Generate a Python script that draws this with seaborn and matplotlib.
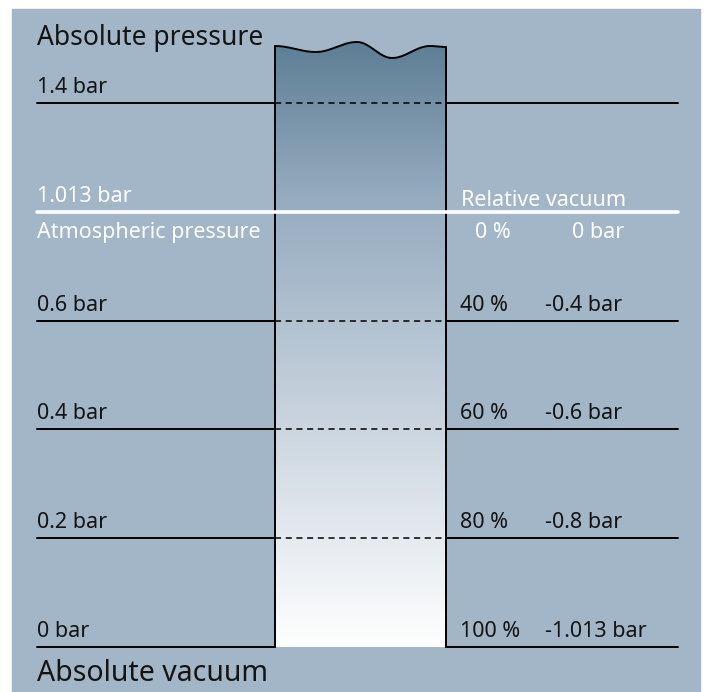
#!/usr/bin/env python

import numpy as np
import pandas as pd
import matplotlib.pyplot as plt
import matplotlib.colors as mcolors
from matplotlib.patches import Rectangle, PathPatch
from matplotlib.path import Path
import seaborn as sns

# pressure levels, drawn evenly spaced (schematic, not to scale)
levels = [0, 1, 2, 3, 4, 5]
abs_labels = ["0 bar", "0.2 bar", "0.4 bar", "0.6 bar", "1.013 bar", "1.4 bar"]
pct_labels = ["100 %", "80 %", "60 %", "40 %", "0 %", None]
rel_labels = ["-1.013 bar", "-0.8 bar", "-0.6 bar", "-0.4 bar", "0 bar", None]
atm_level = 4

sns.set_theme(style="white")
plt.rcParams['font.family'] = ['Noto Sans', 'DejaVu Sans']

PANEL = "#a3b6c7"
TOP = "#5d7e95"
INK = "#141414"

W, H = 705, 692
fig = plt.figure(figsize=(W / 100, H / 100), dpi=100)
ax = fig.add_axes([0, 0, 1, 1])

px_per_level = 108.8
y0_px = 647


def lv(py):
    # pixel row -> level units
    return (y0_px - py) / px_per_level


ax.set_xlim(0, W)
ax.set_ylim(lv(H), lv(0))
ax.axis("off")
fig.patch.set_facecolor("white")

# panel
ax.add_patch(Rectangle((12, lv(H)), 688, lv(9) - lv(H), color=PANEL, zorder=0))

# column with wavy top
xl, xr = 275, 446
wave_x = [275, 316, 357, 392, 430, 446]
wave_y = [46, 52, 42, 58, 46, 47]
xs, ys = [], []
for i in range(len(wave_x) - 1):
    t = np.linspace(0, 1, 30)
    s = (1 - np.cos(np.pi * t)) / 2
    xs.extend(wave_x[i] + (wave_x[i + 1] - wave_x[i]) * t)
    ys.extend(wave_y[i] + (wave_y[i + 1] - wave_y[i]) * s)
top_y = [lv(v) for v in ys]
verts = [(xl, levels[0])] + list(zip(xs, top_y)) + [(xr, levels[0]), (xl, levels[0])]
clip = Path(verts, closed=True)

cmap = mcolors.LinearSegmentedColormap.from_list(
    "col", [(0, "white"), (0.62, "#a6b8c9"), (0.75, "#95abbe"), (1, TOP)])
grad = np.linspace(0, 1, 256).reshape(-1, 1)
ytop = max(top_y)
im = ax.imshow(grad, cmap=cmap, aspect="auto", origin="lower",
               extent=(xl, xr, levels[0], ytop), zorder=1)
patch = PathPatch(clip, facecolor="none", edgecolor="none")
ax.add_patch(patch)
im.set_clip_path(patch)
ax.plot(xs, top_y, color="black", lw=1.4, zorder=4)
ax.plot([xl, xl], [levels[0], top_y[0]], color="black", lw=1.4, zorder=4)
ax.plot([xr, xr], [levels[0], top_y[-1]], color="black", lw=1.4, zorder=4)

# level lines
rows = []
for lvl in levels:
    if lvl == atm_level:
        continue
    rows.append(dict(x=37, level=lvl, seg=f"L{lvl}"))
    rows.append(dict(x=xl, level=lvl, seg=f"L{lvl}"))
    rows.append(dict(x=xr, level=lvl, seg=f"R{lvl}"))
    rows.append(dict(x=678, level=lvl, seg=f"R{lvl}"))
df = pd.DataFrame(rows)
sns.lineplot(data=df, x="x", y="level", units="seg", estimator=None,
             sort=False, color="black", lw=1.4, ax=ax, zorder=3)

dash = pd.DataFrame([dict(x=xx, level=l, seg=l) for l in levels
                     if l not in (0, atm_level) for xx in (xl, xr)])
sns.lineplot(data=dash, x="x", y="level", units="seg", estimator=None,
             sort=False, color="black", lw=1.1, ax=ax, zorder=3,
             linestyle=(0, (4, 3)))

atm = pd.DataFrame(dict(x=[37, 678], level=[atm_level, atm_level]))
sns.lineplot(data=atm, x="x", y="level", color="white", lw=2.6, ax=ax,
             zorder=5, estimator=None, sort=False)
ax.set_xlabel("")
ax.set_ylabel("")

fs = 15.5
up = 10 / px_per_level
down = 26 / px_per_level
for lvl, lab in zip(levels, abs_labels):
    c = "white" if lvl == atm_level else INK
    ax.text(37, lvl + up, lab, fontsize=fs, color=c, va="baseline", ha="left")

for lvl, p, r in zip(levels, pct_labels, rel_labels):
    if p is None:
        continue
    if lvl == atm_level:
        ax.text(511, lvl - down, p, fontsize=fs, color="white", va="baseline", ha="right")
        ax.text(572, lvl - down, r, fontsize=fs, color="white", va="baseline", ha="left")
    else:
        ax.text(460, lvl + up, p, fontsize=fs, color=INK, va="baseline", ha="left")
        ax.text(545, lvl + up, r, fontsize=fs, color=INK, va="baseline", ha="left")

ax.text(37, atm_level - down, "Atmospheric pressure", fontsize=fs, color="white",
        va="baseline", ha="left")
ax.text(461, atm_level + 6 / px_per_level, "Relative vacuum", fontsize=fs,
        color="white", va="baseline", ha="left")
ax.text(37, lv(45), "Absolute pressure", fontsize=19, color=INK,
        va="baseline", ha="left")
ax.text(37, lv(681), "Absolute vacuum", fontsize=20.5, color=INK,
        va="baseline", ha="left")

plt.savefig("out.png", dpi=100)
